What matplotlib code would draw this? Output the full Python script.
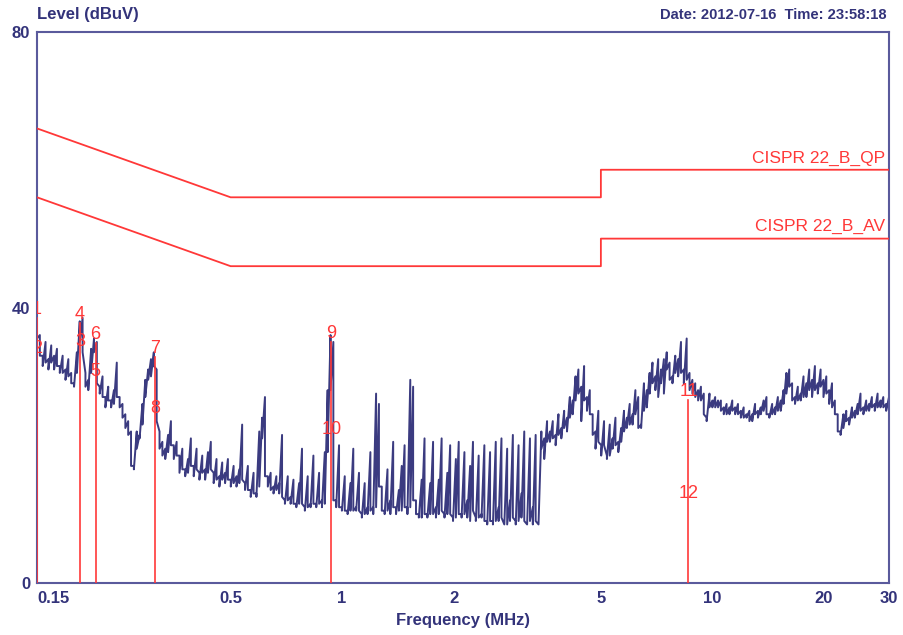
import numpy as np
import matplotlib.pyplot as plt
from matplotlib.ticker import FixedLocator, FixedFormatter, NullLocator

plt.rcParams['font.family'] = ['Liberation Sans', 'DejaVu Sans']

# measured level (dBuV), 300 bins log spaced from 0.15 to 30 MHz
# peak = top of each bin, floor = bottom of each bin
peak = [
    40.5, 36.0, 33.0, 35.0, 32.5, 34.5, 33.0, 34.0, 31.5, 33.0, 31.0, 32.5, 30.5, 29.0, 33.5, 38.0, 38.5, 30.5, 29.5, 34.0,
    35.5, 35.0, 28.5, 30.0, 27.0, 28.5, 26.5, 28.0, 32.0, 27.0, 26.0, 24.5, 23.5, 22.0, 17.0, 22.0, 21.5, 26.0, 29.5, 31.0,
    32.5, 33.5, 31.0, 22.0, 20.5, 19.5, 21.5, 23.5, 20.0, 20.5, 18.5, 19.5, 16.5, 18.0, 21.0, 17.0, 19.5, 16.0, 18.5, 16.5,
    19.0, 20.5, 16.0, 18.0, 15.5, 17.5, 16.0, 18.0, 15.0, 17.0, 15.5, 16.5, 23.0, 14.5, 17.0, 13.5, 16.0, 13.0, 22.0, 24.0,
    27.0, 15.5, 16.0, 14.0, 15.5, 14.5, 21.5, 12.0, 15.5, 12.5, 15.0, 11.5, 14.5, 19.5, 11.0, 15.5, 11.5, 18.5, 11.5, 16.0,
    12.0, 19.0, 28.0, 36.0, 35.0, 12.0, 20.0, 11.0, 15.5, 10.5, 14.5, 19.5, 11.0, 16.0, 10.0, 14.5, 11.0, 19.0, 11.0, 27.5,
    26.0, 14.0, 10.5, 16.5, 12.0, 20.5, 11.0, 13.5, 17.0, 20.0, 11.0, 29.5, 28.5, 12.0, 10.0, 15.0, 21.0, 10.0, 14.5, 20.5,
    11.0, 15.0, 21.0, 10.0, 16.0, 20.0, 9.5, 18.0, 20.5, 10.0, 19.0, 12.0, 17.0, 20.5, 9.5, 18.5, 10.0, 20.0, 9.0, 19.0,
    9.0, 20.5, 11.0, 21.0, 8.5, 19.5, 12.0, 21.5, 9.0, 20.0, 13.0, 22.0, 8.5, 21.0, 11.0, 21.5, 8.5, 22.0, 21.0, 23.5,
    22.0, 23.5, 21.5, 24.5, 22.5, 25.0, 24.0, 27.0, 26.5, 30.0, 31.0, 28.5, 31.5, 27.0, 28.0, 24.5, 22.0, 25.0, 20.0, 23.5,
    18.5, 23.0, 21.0, 24.0, 20.5, 22.5, 25.0, 24.0, 26.0, 24.5, 28.0, 27.0, 23.0, 29.0, 28.0, 30.5, 32.0, 30.0, 32.5, 31.0,
    32.5, 33.5, 32.0, 30.0, 33.0, 32.5, 35.0, 31.0, 35.5, 30.5, 29.5, 29.0, 28.0, 28.5, 27.5, 24.0, 27.5, 26.5, 27.0, 26.5,
    26.5, 25.5, 26.0, 25.5, 26.5, 25.5, 26.0, 25.0, 25.5, 24.5, 25.0, 24.5, 26.0, 25.0, 25.5, 26.5, 27.0, 24.5, 26.0, 25.5,
    27.0, 26.5, 28.0, 30.5, 31.0, 29.0, 27.0, 28.5, 27.5, 30.0, 29.0, 31.0, 29.5, 31.5, 29.0, 31.0, 29.5, 30.0, 28.0, 29.0,
    26.5, 24.5, 22.0, 24.5, 25.0, 24.0, 25.5, 25.0, 26.0, 27.5, 25.5, 26.5, 26.0, 27.0, 26.0, 27.5, 26.5, 27.0, 26.0, 27.0,
]
floor = [
    35.5, 33.0, 31.5, 32.0, 31.0, 32.0, 31.0, 31.5, 30.5, 30.5, 29.5, 30.0, 29.0, 28.5, 30.5, 35.0, 33.5, 28.5, 28.0, 30.5,
    33.5, 29.0, 27.5, 27.0, 25.5, 26.5, 25.5, 26.0, 27.0, 25.5, 24.0, 22.5, 21.5, 17.0, 16.5, 19.5, 21.0, 23.0, 27.0, 29.5,
    30.0, 31.5, 23.5, 19.5, 18.5, 18.0, 19.0, 20.0, 18.0, 18.5, 16.0, 16.5, 15.5, 16.0, 17.0, 15.5, 16.5, 15.0, 16.0, 15.0,
    16.0, 16.5, 14.5, 15.0, 14.0, 15.0, 14.5, 15.0, 14.0, 14.5, 14.0, 14.5, 15.0, 13.5, 13.5, 12.5, 13.0, 12.5, 14.0, 21.0,
    15.5, 14.0, 13.5, 13.0, 13.5, 13.0, 12.5, 11.5, 12.0, 11.5, 11.5, 11.0, 11.5, 11.5, 10.5, 11.0, 11.0, 11.5, 11.0, 11.5,
    11.0, 11.5, 19.0, 28.0, 12.0, 11.0, 11.0, 10.5, 10.5, 10.0, 10.5, 10.5, 10.5, 10.5, 9.5, 10.0, 10.0, 10.5, 10.0, 11.0,
    14.0, 10.5, 10.0, 10.5, 10.0, 11.0, 10.0, 10.5, 10.5, 11.0, 10.0, 11.0, 12.0, 10.0, 9.5, 9.5, 10.0, 9.5, 10.0, 10.0,
    9.5, 10.0, 10.5, 9.5, 10.0, 10.0, 9.0, 9.5, 10.0, 9.5, 10.0, 9.5, 9.0, 10.5, 9.0, 9.5, 9.5, 9.0, 8.5, 9.0,
    8.5, 9.0, 9.0, 9.5, 8.5, 8.5, 9.0, 9.5, 8.5, 9.0, 9.5, 9.0, 8.5, 9.0, 8.5, 9.0, 8.5, 19.5, 18.0, 20.5,
    20.5, 21.0, 20.0, 21.5, 21.0, 22.5, 22.0, 24.0, 24.5, 26.5, 27.5, 23.5, 26.5, 25.0, 24.5, 21.5, 19.5, 20.5, 18.5, 20.0,
    18.0, 18.5, 19.5, 20.0, 19.0, 20.5, 22.0, 22.5, 23.0, 23.0, 24.5, 22.5, 22.5, 25.0, 25.5, 27.5, 29.0, 28.0, 27.0, 29.0,
    27.5, 31.0, 29.5, 29.0, 30.5, 30.0, 30.5, 29.0, 29.5, 28.0, 27.5, 27.0, 26.5, 26.5, 24.5, 23.5, 25.5, 25.5, 25.5, 25.5,
    25.0, 24.5, 24.5, 24.5, 25.0, 24.5, 24.5, 24.0, 24.0, 24.0, 23.5, 23.5, 24.5, 24.0, 24.5, 25.0, 24.5, 24.0, 24.5, 24.5,
    25.0, 25.0, 26.0, 27.5, 28.5, 26.5, 26.0, 26.5, 26.5, 27.0, 27.0, 28.0, 27.0, 28.0, 27.5, 28.5, 27.0, 27.5, 26.0, 25.5,
    24.5, 22.0, 21.5, 22.5, 23.5, 23.0, 24.0, 24.0, 24.5, 25.0, 24.5, 25.0, 25.0, 25.5, 25.0, 25.5, 25.5, 25.5, 25.0, 25.5,
]
freq = np.geomspace(0.15, 30, len(peak))

# CISPR 22 class B limits
limit_freq = [0.15, 0.5, 5, 5, 30]
qp_limit = [66, 56, 56, 60, 60]
av_limit = [56, 46, 46, 50, 50]

# markers
marker_no = ['1', '2', '3', '4', '5', '6', '7', '8', '9', '10', '11', '12']
marker_freq = [0.15, 0.15, 0.196, 0.196, 0.216, 0.216, 0.313, 0.313, 0.935, 0.935, 8.62, 8.62]
marker_level = [38.5, 32.8, 33.8, 37.7, 29.5, 34.8, 32.8, 24.1, 35.0, 21.0, 26.6, 11.8]

xticks = [0.15, 0.5, 1, 2, 5, 10, 20, 30]
xtick_labels = ['0.15', '0.5', '1', '2', '5', '10', '20', '30']
yticks = [0, 40, 80]

trace_col = '#3b3b80'
red = '#ff3838'
frame_col = '#5a5a9c'
text_col = '#33337a'

fig = plt.figure(figsize=(9.04, 6.35), dpi=100)
ax = fig.add_axes([37 / 904, 52 / 635, 852 / 904, 551 / 635])

# trace: each bin drawn from its top down to its bottom
trace_f = np.repeat(freq, 2)
trace_v = np.column_stack([peak, floor]).ravel()
ax.plot(trace_f, trace_v, color=trace_col, lw=1.4, zorder=2)

ax.plot(limit_freq, qp_limit, color=red, lw=1.3, zorder=3)
ax.plot(limit_freq, av_limit, color=red, lw=1.3, zorder=3)
ax.text(0.995, qp_limit[-1] + 0.6, 'CISPR 22_B_QP', transform=ax.get_yaxis_transform(),
        ha='right', va='bottom', color=red, fontsize=12.5)
ax.text(0.995, av_limit[-1] + 0.6, 'CISPR 22_B_AV', transform=ax.get_yaxis_transform(),
        ha='right', va='bottom', color=red, fontsize=12.5)

# vertical marker lines, one per frequency pair
for i in range(0, len(marker_no), 2):
    top = max(marker_level[i], marker_level[i + 1])
    ax.plot([marker_freq[i], marker_freq[i]], [0, top], color=red, lw=1.2, zorder=3)
for n, f, lv in zip(marker_no, marker_freq, marker_level):
    ax.text(f, lv, n, color=red, fontsize=13, ha='center', va='bottom', zorder=4, clip_on=True)

ax.set_xscale('log')
ax.set_xlim(0.15, 30)
ax.set_ylim(0, 80)
ax.xaxis.set_major_locator(FixedLocator(xticks))
ax.xaxis.set_major_formatter(FixedFormatter(xtick_labels))
ax.xaxis.set_minor_locator(NullLocator())
ax.set_yticks(yticks)
ax.tick_params(length=0, labelsize=12, labelcolor=text_col)
ax.tick_params(axis='x', pad=6)
ax.tick_params(axis='y', pad=5)
for lab in ax.get_xticklabels() + ax.get_yticklabels():
    lab.set_fontweight('bold')
ax.get_xticklabels()[0].set_horizontalalignment('left')

for s in ax.spines.values():
    s.set_color(frame_col)
    s.set_linewidth(1.5)

ax.set_xlabel('Frequency (MHz)', fontsize=12, fontweight='bold', color=text_col, labelpad=5)
fig.text(37 / 904, 1 - 15 / 635, 'Level (dBuV)', fontsize=12, fontweight='bold',
         color=text_col, ha='left', va='center')
fig.text(887 / 904, 1 - 15 / 635, 'Date: 2012-07-16  Time: 23:58:18', fontsize=10.6,
         fontweight='bold', color=text_col, ha='right', va='center')

fig.savefig('out.png', dpi=100)
